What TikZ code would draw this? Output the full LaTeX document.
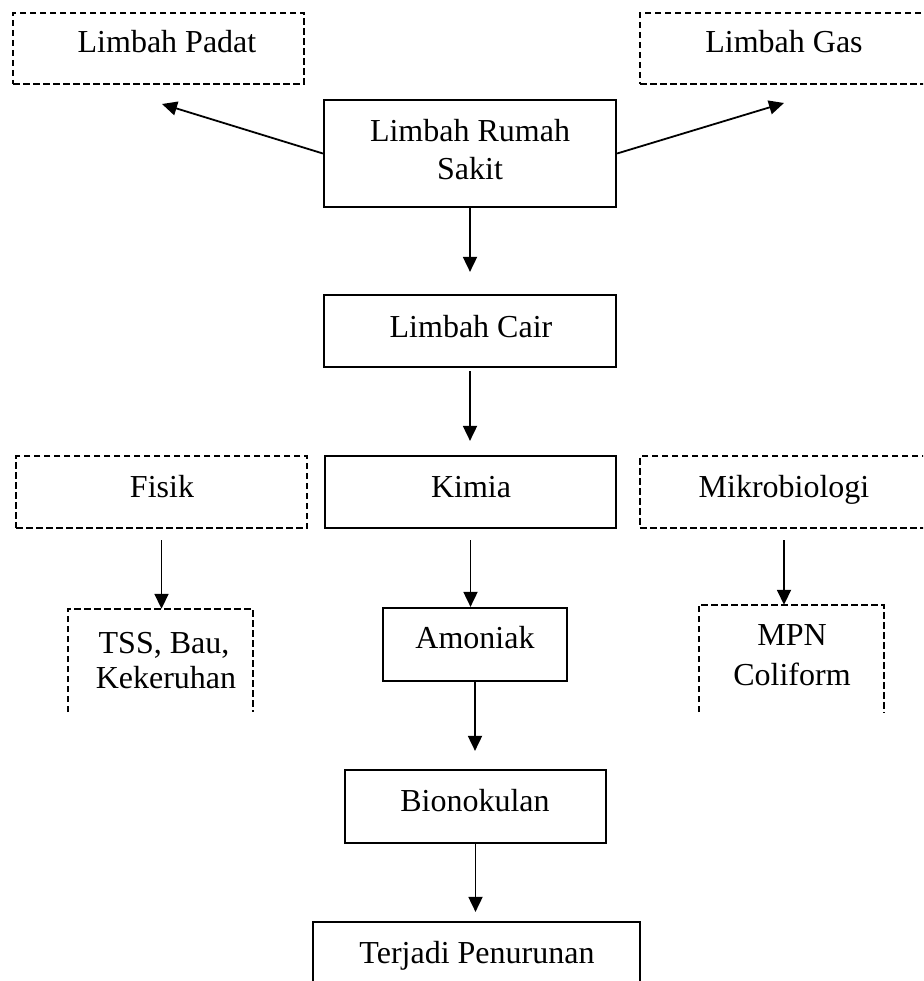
\documentclass[tikz,border=0pt]{standalone}
\usepackage{fontspec}
\setmainfont{Liberation Serif}
\usetikzlibrary{arrows.meta}
\begin{document}
\begin{tikzpicture}[x=1pt,y=-1pt,
  solidbox/.style={draw, line width=2.2pt, inner sep=0pt},
  dashbox/.style={draw, line width=2.2pt, dash pattern=on 6.5pt off 3.5pt, inner sep=0pt},
  openbox/.style={inner sep=0pt},
  dline/.style={line width=2.2pt, dash pattern=on 6.5pt off 3.5pt},
  txt/.style={inner sep=0pt, anchor=base, font=\fontsize{32}{38}\selectfont},
  arr/.style={line width=1.8pt, -{Triangle[length=15pt,width=14pt]}}]
\useasboundingbox (0,0) rectangle (923,981);
\clip (0,0) rectangle (923,981);
% boxes
\node[dashbox, minimum width=291pt, minimum height=71pt] (lp) at (158.5,48.5) {};
\node[dashbox, minimum width=295pt, minimum height=71pt] (lg) at (787.5,48.5) {};
\node[solidbox, minimum width=292pt, minimum height=107pt] (rs) at (470,153.5) {};
\node[solidbox, minimum width=292pt, minimum height=72pt] (lc) at (470,331) {};
\node[dashbox, minimum width=291pt, minimum height=72pt] (fisik) at (161.5,492) {};
\node[solidbox, minimum width=291pt, minimum height=72pt] (kimia) at (470.5,492) {};
\node[dashbox, minimum width=288pt, minimum height=72pt] (mikro) at (784,492) {};
\node[openbox, minimum width=185pt, minimum height=103pt] (tss) at (160.5,660.5) {};
\node[solidbox, minimum width=184pt, minimum height=73pt] (amoniak) at (475,644.5) {};
\node[openbox, minimum width=185pt, minimum height=107pt] (mpn) at (791.5,658.5) {};
\node[solidbox, minimum width=261pt, minimum height=73pt] (bio) at (475.5,806.5) {};
\node[solidbox, minimum width=327pt, minimum height=78pt] (terjadi) at (476.5,961) {};
\draw[dline] (tss.south west) -- (tss.north west) -- (tss.north east) -- (tss.south east);
\draw[dline] (mpn.south west) -- (mpn.north west) -- (mpn.north east) -- (mpn.south east);
% texts
\node[txt] (tlp) at (167,53) {Limbah Padat};
\node[txt] (tlg) at (784,53) {Limbah Gas};
\node[txt] (trs1) at (470,142) {Limbah Rumah};
\node[txt] (trs2) at (470,180) {Sakit};
\node[txt] (tlc) at (471,337) {Limbah Cair};
\node[txt] (tfisik) at (162,497) {Fisik};
\node[txt] (tkimia) at (471,497) {Kimia};
\node[txt] (tmikro) at (784,497) {Mikrobiologi};
\node[txt] (ttss1) at (164,653) {TSS, Bau,};
\node[txt] (ttss2) at (166,688) {Kekeruhan};
\node[txt] (tam) at (475,648) {Amoniak};
\node[txt] (tmpn1) at (792,645) {MPN};
\node[txt] (tmpn2) at (792,685) {Coliform};
\node[txt] (tbio) at (475,811) {Bionokulan};
\node[txt] (tterjadi) at (477,963) {Terjadi Penurunan};
% arrows
\coordinate (lptip) at (162,104);
\coordinate (lgtip) at (784,103);
\draw[arr] (rs.west) -- (lptip);
\draw[arr] (rs.east) -- (lgtip);
\draw[arr, shorten >=22pt] (rs.south) -- (rs.south |- lc.north);
\draw[arr, shorten <=3pt, shorten >=14pt] (lc.south) -- (lc.south |- kimia.north);
\draw[arr, shorten <=11pt] (fisik.south) -- (fisik.south |- tss.north);
\draw[arr, shorten <=11pt] (kimia.south) -- (kimia.south |- amoniak.north);
\draw[arr, shorten <=11pt] (mikro.south) -- (mikro.south |- mpn.north);
\draw[arr, shorten >=18pt] (amoniak.south) -- (amoniak.south |- bio.north);
\draw[arr, shorten >=9pt] (bio.south) -- (bio.south |- terjadi.north);
\end{tikzpicture}
\end{document}
